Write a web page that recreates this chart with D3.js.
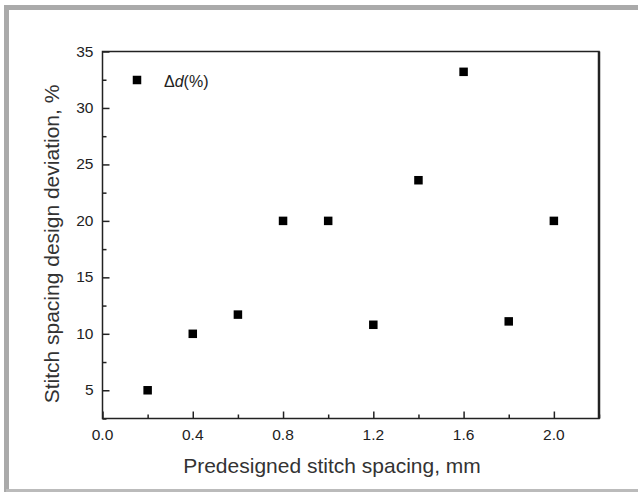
<!DOCTYPE html>
<html>
<head>
<meta charset="utf-8">
<style>
    body { margin: 0; background: #fff; }
    svg { display: block; font-family: Arial, 'Liberation Sans', sans-serif; }
</style>
</head>
<body>
<svg width="638" height="492"></svg>

<script src="https://d3js.org/d3.v7.min.js"></script>
<script>
    // stitch spacing (mm) and deviation (%)
    let spacing = [0.2, 0.4, 0.6, 0.8, 1.0, 1.2, 1.4, 1.6, 1.8, 2.0]
    let deviation = [5.0, 10.0, 11.7, 20.0, 20.0, 10.8, 23.6, 33.2, 11.1, 20.0]
    let xTicks = [0, 0.4, 0.8, 1.2, 1.6, 2.0]
    let yTicks = [5, 10, 15, 20, 25, 30, 35]

    let svg = d3.select("svg")

    // grey frame around the figure
    svg.append("path")
        .attr("d", "M6.5,492 V7.5 H638")
        .style("fill", "none")
        .style("stroke", "#aaaaaa")
        .style("stroke-width", 5)
    svg.append("line")
        .attr("x1", 6).attr("x2", 638)
        .attr("y1", 490.5).attr("y2", 490.5)
        .style("stroke", "#bbbbbb")
        .style("stroke-width", 3)

    let pLeft = 102.5, pRight = 599, pTop = 51.5, pBottom = 418.5

    let x = d3.scaleLinear().domain([0, 2.2]).range([pLeft, pRight])
    let y = d3.scaleLinear().domain([2.5, 35]).range([pBottom, pTop])

    // x axis (ticks pointing inward)
    let xAxis = svg.append("g")
        .attr("transform", `translate(0,${pBottom})`)
        .call(d3.axisTop(x).tickValues(d3.range(0, 2.21, 0.2)).tickSize(7).tickFormat(""))
    xAxis.select(".domain").remove()
    xAxis.selectAll(".tick line")
        .attr("y2", (d, i) => i % 2 == 0 ? -7 : -4)
        .style("stroke", "#222")
        .style("stroke-width", 1.5)

    svg.append("g").selectAll("text")
        .data(xTicks)
        .join("text")
        .attr("x", d => x(d))
        .attr("y", pBottom + 21.5)
        .attr("text-anchor", "middle")
        .style("font-size", "15.5px")
        .style("fill", "#222")
        .text(d => d.toFixed(1))

    // y axis
    let yAxis = svg.append("g")
        .attr("transform", `translate(${pLeft},0)`)
        .call(d3.axisRight(y).tickValues(d3.range(2.5, 35.1, 2.5)).tickSize(7).tickFormat(""))
    yAxis.select(".domain").remove()
    yAxis.selectAll(".tick line")
        .attr("x2", d => d % 5 == 0 ? 7 : 4)
        .style("stroke", "#222")
        .style("stroke-width", 1.5)

    svg.append("g").selectAll("text")
        .data(yTicks)
        .join("text")
        .attr("x", pLeft - 9)
        .attr("y", d => y(d) + 5)
        .attr("text-anchor", "end")
        .style("font-size", "15.5px")
        .style("fill", "#222")
        .text(d => d)

    // plot frame
    svg.append("rect")
        .attr("x", pLeft).attr("y", pTop)
        .attr("width", pRight - pLeft).attr("height", pBottom - pTop)
        .style("fill", "none")
        .style("stroke", "#222")
        .style("stroke-width", 1.5)
    svg.append("line")
        .attr("x1", pRight).attr("x2", pRight)
        .attr("y1", pTop).attr("y2", pBottom)
        .style("stroke", "#222")
        .style("stroke-width", 2.5)

    // points
    let s = 8.5
    svg.append("g").selectAll("rect")
        .data(spacing)
        .join("rect")
        .attr("x", d => x(d) - s / 2)
        .attr("y", (d, i) => y(deviation[i]) - s / 2)
        .attr("width", s)
        .attr("height", s)
        .style("fill", "#000")

    // legend
    svg.append("rect")
        .attr("x", 137 - s / 2).attr("y", 80 - s / 2)
        .attr("width", s).attr("height", s)
        .style("fill", "#000")
    let leg = svg.append("text")
        .attr("x", 164)
        .attr("y", 87)
        .style("font-size", "16px")
        .style("fill", "#222")
    leg.append("tspan").text("Δ")
    leg.append("tspan").style("font-style", "italic").text("d")
    leg.append("tspan").text("(%)")

    // axis titles
    svg.append("text")
        .attr("x", 332)
        .attr("y", 473)
        .attr("text-anchor", "middle")
        .style("font-size", "21px")
        .style("fill", "#333")
        .text("Predesigned stitch spacing, mm")

    svg.append("text")
        .attr("transform", `translate(59,244) rotate(-90)`)
        .attr("text-anchor", "middle")
        .style("font-size", "21px")
        .style("fill", "#333")
        .text("Stitch spacing design deviation, %")
</script>
</body>
</html>
